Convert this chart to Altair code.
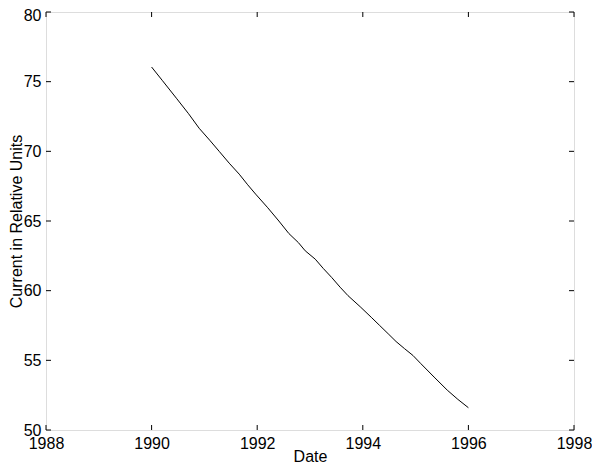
import altair as alt
import pandas as pd

years = [1990.0, 1990.2, 1990.47, 1990.7, 1990.9, 1991.1, 1991.28, 1991.47, 1991.66, 1991.82, 1991.97,
         1992.2, 1992.41, 1992.6, 1992.78, 1992.91, 1993.1, 1993.25, 1993.41, 1993.57, 1993.72,
         1993.95, 1994.16, 1994.32, 1994.48, 1994.63, 1994.79, 1994.95, 1995.1, 1995.35, 1995.6,
         1995.8, 1996.0]
current = [76.05, 75.1, 73.81, 72.7, 71.66, 70.8, 70.0, 69.15, 68.36, 67.6, 66.93,
           65.95, 65.0, 64.1, 63.45, 62.86, 62.26, 61.6, 60.95, 60.25, 59.64,
           58.85, 58.09, 57.5, 56.91, 56.35, 55.84, 55.35, 54.76, 53.8, 52.86,
           52.2, 51.6]

x_ticks = [1988, 1990, 1992, 1994, 1996, 1998]
y_ticks = [50, 55, 60, 65, 70, 75, 80]

W, H = 528, 418
TL = 5

df = pd.DataFrame({"Date": years, "Current": current})
xt = pd.DataFrame({"Date": x_ticks})
yt = pd.DataFrame({"Current": y_ticks})

font = "Liberation Sans"

xscale = alt.Scale(domain=[1988, 1998], nice=False, zero=False)
yscale = alt.Scale(domain=[50, 80], nice=False, zero=False)

xaxis = alt.Axis(values=x_ticks, format="d", title="Date", grid=False, domain=False,
                 tickSize=0, labelPadding=5, titleY=31, titleBaseline="alphabetic",
                 labelFont=font, titleFont=font,
                 labelFontSize=16, titleFontSize=16, titleFontWeight="normal",
                 labelColor="black", titleColor="black", labelFlush=False)
yaxis = alt.Axis(values=y_ticks, title="Current in Relative Units", grid=False, domain=False,
                 tickSize=0, labelPadding=5, titleX=-25, titleBaseline="alphabetic",
                 labelOffset={"condition": {"test": "datum.value == 80", "value": 3}, "value": 0},
                 labelFont=font, titleFont=font,
                 labelFontSize=16, titleFontSize=16, titleFontWeight="normal",
                 labelColor="black", titleColor="black", labelFlush=False)

line = alt.Chart(df).mark_line(color="black", strokeWidth=1).encode(
    x=alt.X("Date:Q", scale=xscale, axis=xaxis),
    y=alt.Y("Current:Q", scale=yscale, axis=yaxis),
)

xb = alt.Chart(xt).mark_rule(color="black", strokeWidth=1).encode(
    x=alt.X("Date:Q", scale=xscale), y=alt.value(H), y2=alt.value(H - TL))
xtp = alt.Chart(xt).mark_rule(color="black", strokeWidth=1).encode(
    x=alt.X("Date:Q", scale=xscale), y=alt.value(0), y2=alt.value(TL))
yl = alt.Chart(yt).mark_rule(color="black", strokeWidth=1).encode(
    y=alt.Y("Current:Q", scale=yscale), x=alt.value(0), x2=alt.value(TL))
yr = alt.Chart(yt).mark_rule(color="black", strokeWidth=1).encode(
    y=alt.Y("Current:Q", scale=yscale), x=alt.value(W - TL), x2=alt.value(W))

chart = alt.layer(line, xb, xtp, yl, yr).properties(
    width=W, height=H,
    autosize=alt.AutoSizeParams(type="none"),
    padding={"left": 38, "top": 4, "right": 18, "bottom": 33},
).configure_view(stroke="#333333", strokeWidth=1).configure(background="white")

chart.save("out.html", embed_options={"renderer": "svg", "actions": False})
